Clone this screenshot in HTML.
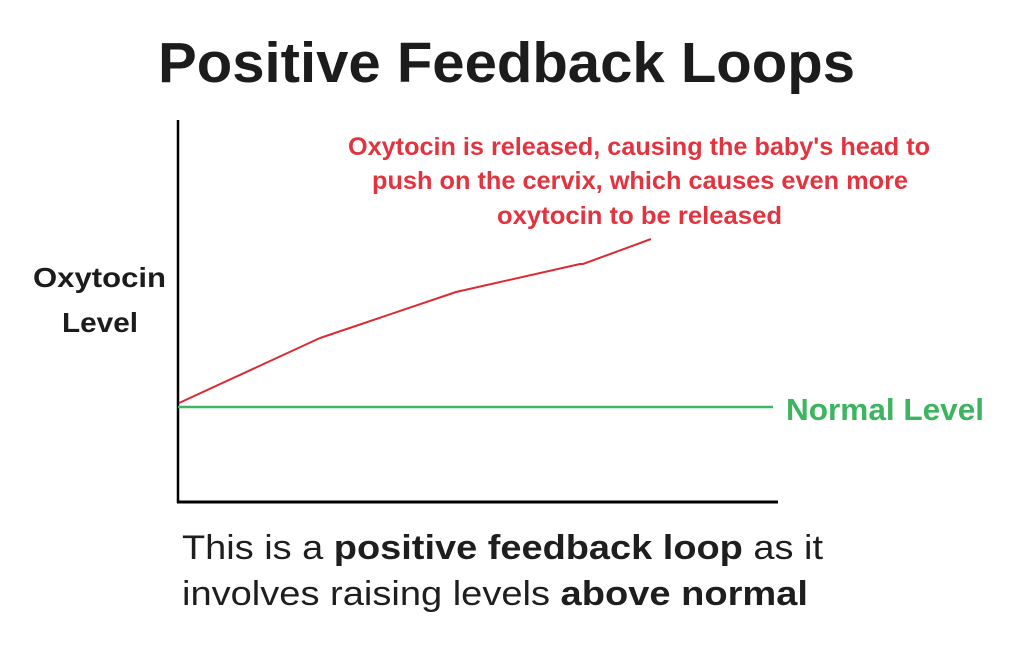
<!DOCTYPE html>
<html>
<head>
<meta charset="utf-8">
<style>
html,body{margin:0;padding:0;background:#fff;}
svg{display:block;}
text{font-family:"Liberation Sans",sans-serif;}
</style>
</head>
<body>
<svg width="1024" height="652" viewBox="0 0 1024 652" xmlns="http://www.w3.org/2000/svg">
<rect width="1024" height="652" fill="#fff"/>
<text x="158" y="82" font-size="57" font-weight="bold" fill="#1c1c1c" textLength="697" lengthAdjust="spacingAndGlyphs">Positive Feedback Loops</text>

<text x="33" y="287" font-size="28" font-weight="bold" fill="#1c1c1c" textLength="133" lengthAdjust="spacingAndGlyphs">Oxytocin</text>
<text x="62" y="332" font-size="28" font-weight="bold" fill="#1c1c1c" textLength="76" lengthAdjust="spacingAndGlyphs">Level</text>

<text x="348" y="155" font-size="25" font-weight="bold" fill="#e2333f" textLength="582" lengthAdjust="spacingAndGlyphs">Oxytocin is released, causing the baby's head to</text>
<text x="372" y="189" font-size="25" font-weight="bold" fill="#e2333f" textLength="536" lengthAdjust="spacingAndGlyphs">push on the cervix, which causes even more</text>
<text x="497" y="224" font-size="25" font-weight="bold" fill="#e2333f" textLength="285" lengthAdjust="spacingAndGlyphs">oxytocin to be released</text>

<line x1="178" y1="120" x2="178" y2="503" stroke="#000" stroke-width="2.5"/>
<line x1="177" y1="502" x2="778" y2="502" stroke="#000" stroke-width="3"/>
<line x1="178" y1="407" x2="773" y2="407" stroke="#3db45f" stroke-width="2.5"/>
<polyline points="179,403 320,338 323,337 456,292 580,264 583,264 651,239" fill="none" stroke="#dc2a33" stroke-width="2"/>

<text x="786" y="420" font-size="31" font-weight="bold" fill="#3db45f" textLength="198" lengthAdjust="spacingAndGlyphs">Normal Level</text>

<text x="182" y="559" font-size="34" fill="#1e1e1e" textLength="641" lengthAdjust="spacingAndGlyphs">This is a <tspan font-weight="bold">positive feedback loop</tspan> as it</text>
<text x="182" y="605" font-size="34" fill="#1e1e1e" textLength="626" lengthAdjust="spacingAndGlyphs">involves raising levels <tspan font-weight="bold">above normal</tspan></text>
</svg>
</body>
</html>
